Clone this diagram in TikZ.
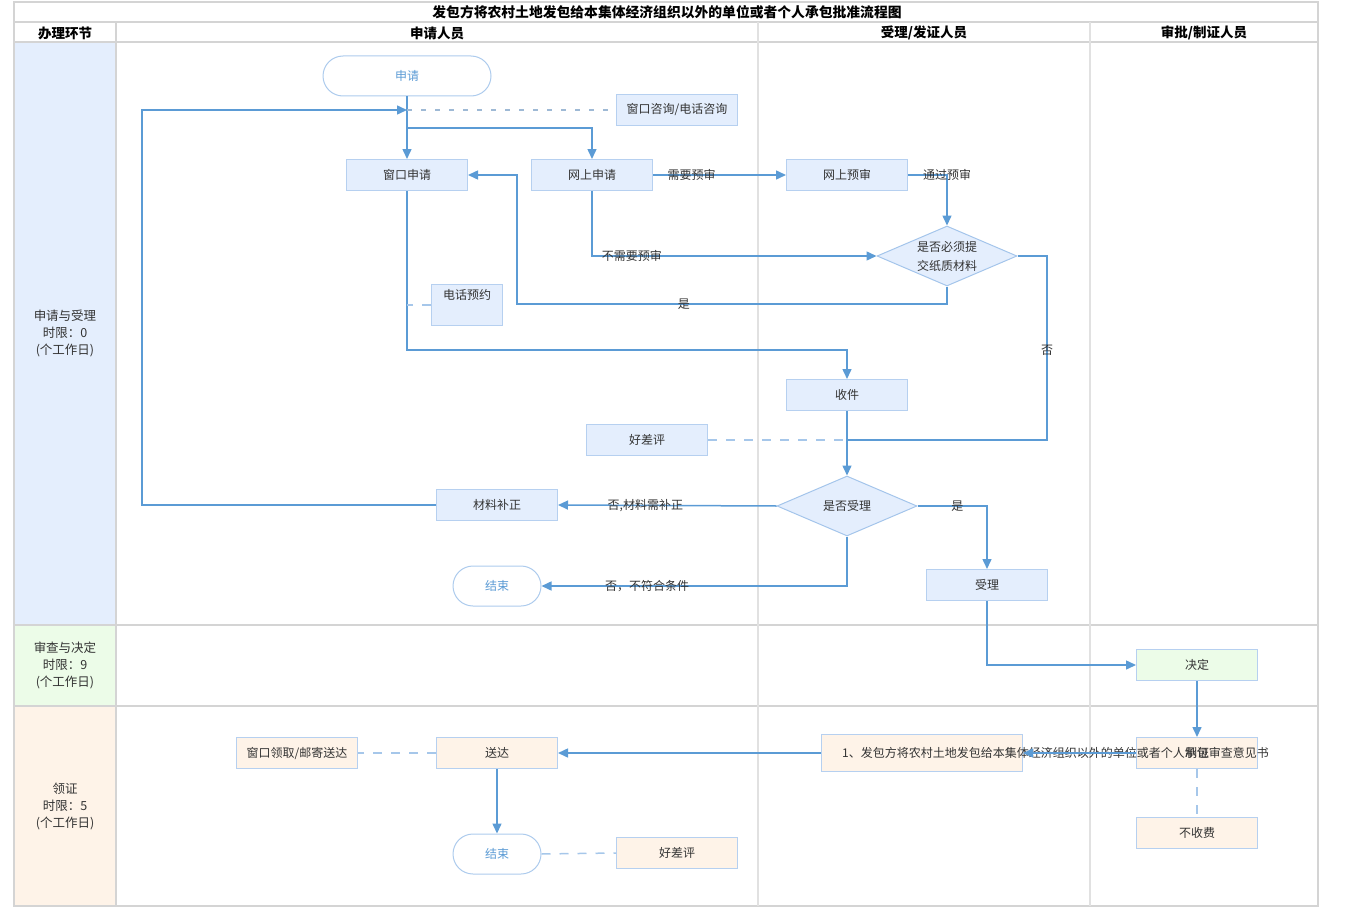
\documentclass[tikz,border=0pt]{standalone}
\usepackage{fontspec}
\setmainfont{Noto Sans CJK SC}
\usetikzlibrary{arrows.meta,shapes.geometric}
\definecolor{lanec}{HTML}{D4D4D4}
\definecolor{lnc}{HTML}{5B9BD5}
\definecolor{dlc}{HTML}{A6C7EA}
\definecolor{bfill}{HTML}{E4EEFD}
\definecolor{bdraw}{HTML}{B6D0F0}
\definecolor{gfill}{HTML}{ECFCE8}
\definecolor{ofill}{HTML}{FEF3E8}
\definecolor{txc}{HTML}{333333}
\begin{document}
\begin{tikzpicture}[x=1pt,y=-1pt,
  every node/.style={font=\fontsize{12}{14}\selectfont, text=txc},
  boxn/.style={draw=bdraw, fill=bfill, line width=1pt, minimum width=121pt, minimum height=31pt, inner sep=0pt},
  gbox/.style={boxn, fill=gfill},
  obox/.style={boxn, fill=ofill},
  term/.style={draw=bdraw!90!lnc, fill=white, line width=1pt, rounded corners=20pt, minimum height=40pt, inner sep=0pt, text=lnc},
  dia/.style={draw=bdraw!80!lnc, fill=bfill, line width=1pt, shape=diamond, aspect=2.33, minimum width=140pt, minimum height=60pt, inner sep=0pt, align=center, font=\fontsize{12}{19}\selectfont},
  arr/.style={draw=lnc, line width=1.5pt, -{Triangle[length=10pt,width=9pt]}},
  ln/.style={draw=lnc, line width=1.5pt},
  dsh/.style={draw=dlc, line width=1.5pt, dash pattern=on 9pt off 9pt},
  lbl/.style={inner sep=0pt},
  hdr/.style={font=\fontsize{13.5}{15}\selectfont\bfseries, text=black},
  lanet/.style={align=center, font=\fontsize{12.5}{17}\selectfont},
  grid/.style={draw=lanec, line width=1.8pt}
]
\useasboundingbox (0,0) rectangle (1350,907);
% lane fills
\fill[bfill] (14,42) rectangle (116,625);
\fill[gfill] (14,625) rectangle (116,706);
\fill[ofill] (14,706) rectangle (116,906);
% grid
\draw[grid] (14,2) rectangle (1318,906);
\draw[grid] (14,22) -- (1318,22);
\draw[grid] (14,42) -- (1318,42);
\draw[grid] (14,625) -- (1318,625);
\draw[grid] (14,706) -- (1318,706);
\draw[grid] (116,22) -- (116,906);
\draw[grid, draw=lanec!70] (758,22) -- (758,906);
\draw[grid, draw=lanec!70] (1090,22) -- (1090,906);
% headers
\node[hdr, font=\fontsize{13.8}{15}\selectfont\bfseries] (title) at (667,12) {发包方将农村土地发包给本集体经济组织以外的单位或者个人承包批准流程图};
\node[hdr] (h0) at (65,33) {办理环节};
\node[hdr] (h1) at (437,33) {申请人员};
\node[hdr] (h2) at (924,33) {受理/发证人员};
\node[hdr] (h3) at (1204,33) {审批/制证人员};
\node[lanet] (l1) at (65,333) {申请与受理\\时限：0\\(个工作日)};
\node[lanet] (l2) at (65,665) {审查与决定\\时限：9\\(个工作日)};
\node[lanet] (l3) at (65,806) {领证\\时限：5\\(个工作日)};
% nodes
\node[term, minimum width=168pt] (sq) at (407,76) {申请};
\node[boxn, minimum height=30pt] (zx) at (677,110) {窗口咨询/电话咨询};
\node[boxn] (ck) at (407,175) {窗口申请};
\node[boxn] (ws) at (592,175) {网上申请};
\node[boxn] (wy) at (847,175) {网上预审};
\node[dia] (d1) at (947,256) {是否必须提\\交纸质材料};
\node[boxn, minimum width=71pt, minimum height=41pt, label={[anchor=north, inner sep=0pt, yshift=-5pt]north:电话预约}] (dy) at (467,305) {};
\node[boxn] (sj) at (847,395) {收件};
\node[boxn] (hp) at (647,440) {好差评};
\node[dia] (d2) at (847,506) {是否受理};
\node[boxn] (bz) at (497,505) {材料补正};
\node[term, minimum width=88pt] (js1) at (497,586) {结束};
\node[boxn] (sl) at (987,585) {受理};
\node[gbox] (jd) at (1197,665) {决定};
\node[obox] (zz) at (1197,753) {制证};
\node[obox] (bsf) at (1197,833) {不收费};
\node[obox, minimum width=201pt, minimum height=37pt] (pf) at (922,753) {};
\node[anchor=west, inner sep=0pt] (pft) at ([xshift=21pt]pf.west) {1、发包方将农村土地发包给本集体经济组织以外的单位或者个人承包审查意见书};
\node[obox] (sd) at (497,753) {送达};
\node[obox] (lq) at (297,753) {窗口领取/邮寄送达};
\node[term, minimum width=88pt] (js2) at (497,854) {结束};
\node[obox] (hp2) at (677,853) {好差评};
% coordinates
\coordinate (j0) at (407,110);
\coordinate (j1) at (407,128);
\coordinate (c1) at (142,110);
\coordinate (c2) at (517,304);
\coordinate (c3) at (1047,440);
\coordinate (j2) at (847,440);
\coordinate (c4) at (407,350);
\coordinate (j3) at (407,305);
% connectors
\draw[arr] (sq.south) -- (ck.north);
\draw[arr] (j1) -| (ws.north);
\draw[dsh, dash pattern=on 5pt off 9pt, draw=dlc!80!gray] (j0) -- (zx.west);
\draw[arr] (bz.west) -| (c1) -- (j0);
\draw[arr] (ws.east) -- node[lbl, pos=0.29]{需要预审} (wy.west);
\draw[arr] (wy.east) -| node[lbl, pos=0.5]{通过预审} (d1.north);
\draw[arr] (ws.south) |- node[lbl, pos=0.57]{不需要预审} (d1.west);
\draw[arr] (d1.south) |- node[lbl, pos=0.806]{是} (c2) |- (ck.east);
\draw[ln] (d1.east) -| node[lbl, pos=0.755]{否} (c3) -- (j2);
\draw[arr] (ck.south) -- (c4) -| (sj.north);
\draw[dsh] (dy.west) -- (j3);
\draw[arr] (sj.south) -- (d2.north);
\draw[dsh] (hp.east) -- (j2);
\draw[arr] (d2.west) -- node[lbl, pos=0.6]{否,材料需补正} (bz.east);
\draw[arr] (d2.south) |- node[lbl, pos=0.827]{否，不符合条件} (js1.east);
\draw[arr] (d2.east) -| node[lbl, pos=0.286]{是} (sl.north);
\draw[arr] (sl.south) |- (jd.west);
\draw[arr] (jd.south) -- (zz.north);
\draw[arr] (zz.west) -- (pf.east);
\draw[dsh] (zz.south) -- (bsf.north);
\draw[arr] (pf.west) -- (sd.east);
\draw[dsh] (sd.west) -- (lq.east);
\draw[arr] (sd.south) -- (js2.north);
\draw[dsh] (js2.east) -- (hp2.west);
\end{tikzpicture}
\end{document}
